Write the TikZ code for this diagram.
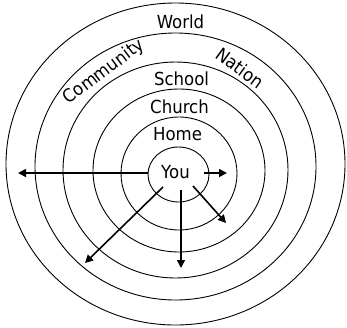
\documentclass[tikz,border=0pt]{standalone}
\usepackage{fontspec}
\setmainfont{DejaVu Sans}[FakeStretch=0.92]
\usetikzlibrary{arrows.meta}
\begin{document}
\begin{tikzpicture}[x=1pt,y=-1pt,
  ring/.style={line width=0.9pt},
  lbl/.style={font=\fontsize{18}{21}\selectfont, inner sep=0pt},
  outarrow/.style={line width=1.6pt, -{Triangle[length=8pt,width=8pt]}}]
\useasboundingbox (0,0) rectangle (347,327);
% rings
\draw[ring] (175.5,164) ellipse [x radius=169.5, y radius=161];
\draw[ring] (175.5,166.5) ellipse [x radius=140.5, y radius=133.5];
\draw[ring] (175.5,170) ellipse [x radius=112.5, y radius=108];
\draw[ring] (179,170.5) ellipse [x radius=86, y radius=81.5];
\draw[ring] (179,173.5) ellipse [x radius=58, y radius=56.5];
\draw[ring] (178.5,174.5) ellipse [x radius=30.5, y radius=27.5];
% labels
\node[lbl, anchor=base] (world) at (180.5,28) {World};
\node[lbl, anchor=base] (school) at (181.5,85) {School};
\node[lbl, anchor=base] (church) at (179.5,113) {Church};
\node[lbl, anchor=base] (home) at (177.5,140) {Home};
\node[lbl, anchor=base] (you) at (175.5,178) {You};
\node[lbl, rotate=37] (community) at (104,72) {Community};
\node[lbl, rotate=-36] (nation) at (240,68) {Nation};
% arrow ends
\coordinate (sL) at (148,173);
\coordinate (tL) at (18,173);
\coordinate (sR) at (204,173);
\coordinate (tR) at (227,173);
\coordinate (sDL) at (163,187);
\coordinate (tDL) at (85,263);
\coordinate (sD) at (181,190);
\coordinate (tD) at (181,268);
\coordinate (sDR) at (193,186);
\coordinate (tDR) at (226,223);
\draw[outarrow] (sL) -- (tL);
\draw[outarrow] (sR) -- (tR);
\draw[outarrow] (sDL) -- (tDL);
\draw[outarrow] (sD) -- (tD);
\draw[outarrow] (sDR) -- (tDR);
\end{tikzpicture}
\end{document}
